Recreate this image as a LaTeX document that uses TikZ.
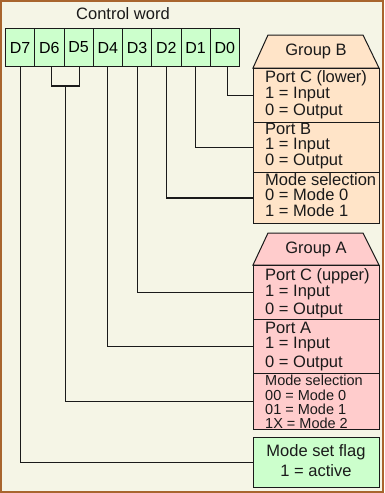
\documentclass[tikz,border=0pt]{standalone}
\usepackage{fontspec}
\setmainfont{Liberation Sans}
\usetikzlibrary{calc}
\definecolor{bgc}{HTML}{F5F5E6}
\definecolor{framec}{HTML}{A8652E}
\definecolor{greenc}{HTML}{CCFFCC}
\definecolor{peachc}{HTML}{FFE4C8}
\definecolor{pinkc}{HTML}{FFCCCC}
\definecolor{linec}{HTML}{1A1A1A}
\begin{document}
\begin{tikzpicture}[x=1pt,y=-1pt,
  txt/.style={font=\fontsize{16.5}{18}\selectfont, inner sep=0pt, text=linec},
  smalltxt/.style={font=\fontsize{14.5}{16}\selectfont, inner sep=0pt, text=linec},
  bit/.style={draw=linec, line width=1pt, fill=greenc, minimum width=29.25pt, minimum height=38pt, anchor=north west, inner sep=0pt, font=\fontsize{16}{18}\selectfont},
  fieldbox/.style={draw=linec, line width=1pt, minimum width=126pt, anchor=north west, inner sep=0pt},
  conn/.style={draw=linec, line width=1.2pt},
  line/.style={txt, anchor=base west},
  sline/.style={smalltxt, anchor=base west}]
\fill[framec] (0,0) rectangle (384,493);
\fill[bgc] (2,2) rectangle (382,491);
\useasboundingbox (0,0) rectangle (384,493);

\node[txt] (title) at (123,14) {Control word};
\foreach \b [count=\k from 0] in {7,6,5,4,3,2,1,0}
  \node[bit] (d\b) at ({5+\k*29.25},28) {D\b};

% Group B
\draw[line width=1pt, draw=linec, fill=peachc] (253,68) -- (268,35) -- (363,35) -- (379,68) -- cycle;
\node[txt] (grpB) at (316,51) {Group B};
\node[fieldbox, fill=peachc, minimum height=54pt] (pcl) at (253,68) {};
\node[fieldbox, fill=peachc, minimum height=50pt] (pb) at (253,122) {};
\node[fieldbox, fill=peachc, minimum height=51pt] (msb) at (253,172) {};
\node[line] (pcl1) at (265,82) {Port C (lower)};
\node[line] (pcl2) at (265,98) {1 = Input};
\node[line] (pcl3) at (265,115) {0 = Output};
\node[line] (pb1) at (265,134) {Port B};
\node[line] (pb2) at (265,149) {1 = Input};
\node[line] (pb3) at (265,165) {0 = Output};
\node[line] (msb1) at (265,185) {Mode selection};
\node[line] (msb2) at (265,200) {0 = Mode 0};
\node[line] (msb3) at (265,216) {1 = Mode 1};

% Group A
\draw[line width=1pt, draw=linec, fill=pinkc] (253,265) -- (268,233) -- (363,233) -- (379,265) -- cycle;
\node[txt] (grpA) at (316,249) {Group A};
\node[fieldbox, fill=pinkc, minimum height=54pt] (pcu) at (253,265) {};
\node[fieldbox, fill=pinkc, minimum height=54pt] (pa) at (253,319) {};
\node[fieldbox, fill=pinkc, minimum height=56pt] (msa) at (253,373) {};
\node[line] (pcu1) at (265,280) {Port C (upper)};
\node[line] (pcu2) at (265,296) {1 = Input};
\node[line] (pcu3) at (265,314) {0 = Output};
\node[line] (pa1) at (265,333) {Port A};
\node[line] (pa2) at (265,348) {1 = Input};
\node[line] (pa3) at (265,367) {0 = Output};
\node[sline] (msa1) at (265,385) {Mode selection};
\node[sline] (msa2) at (265,400) {00 = Mode 0};
\node[sline] (msa3) at (265,414) {01 = Mode 1};
\node[sline] (msa4) at (265,428) {1X = Mode 2};

% Mode set flag
\node[fieldbox, fill=greenc, minimum height=50pt] (flag) at (253,437) {};
\node[txt] (flag1) at (316,452) {Mode set flag};
\node[txt] (flag2) at (316,471) {1 = active};

% Connectors
\draw[conn] ([xshift=2.5pt]d0.south) |- (pcl.west);
\draw[conn] (d1.south) |- (pb.west);
\draw[conn] (d2.south) |- (msb.west);
\draw[conn] (d3.south) |- (pcu.west);
\draw[conn] (d4.south) |- (pa.west);
\coordinate (j) at ($([xshift=2pt]d6.south)!0.5!([xshift=1pt]d5.south)+(0,19)$);
\draw[conn] ([xshift=2pt]d6.south) -- ++(0,19) -| ([xshift=1pt]d5.south);
\draw[conn] (j) |- (msa.west);
\draw[conn] (d7.south) |- (flag.west);
\end{tikzpicture}
\end{document}
